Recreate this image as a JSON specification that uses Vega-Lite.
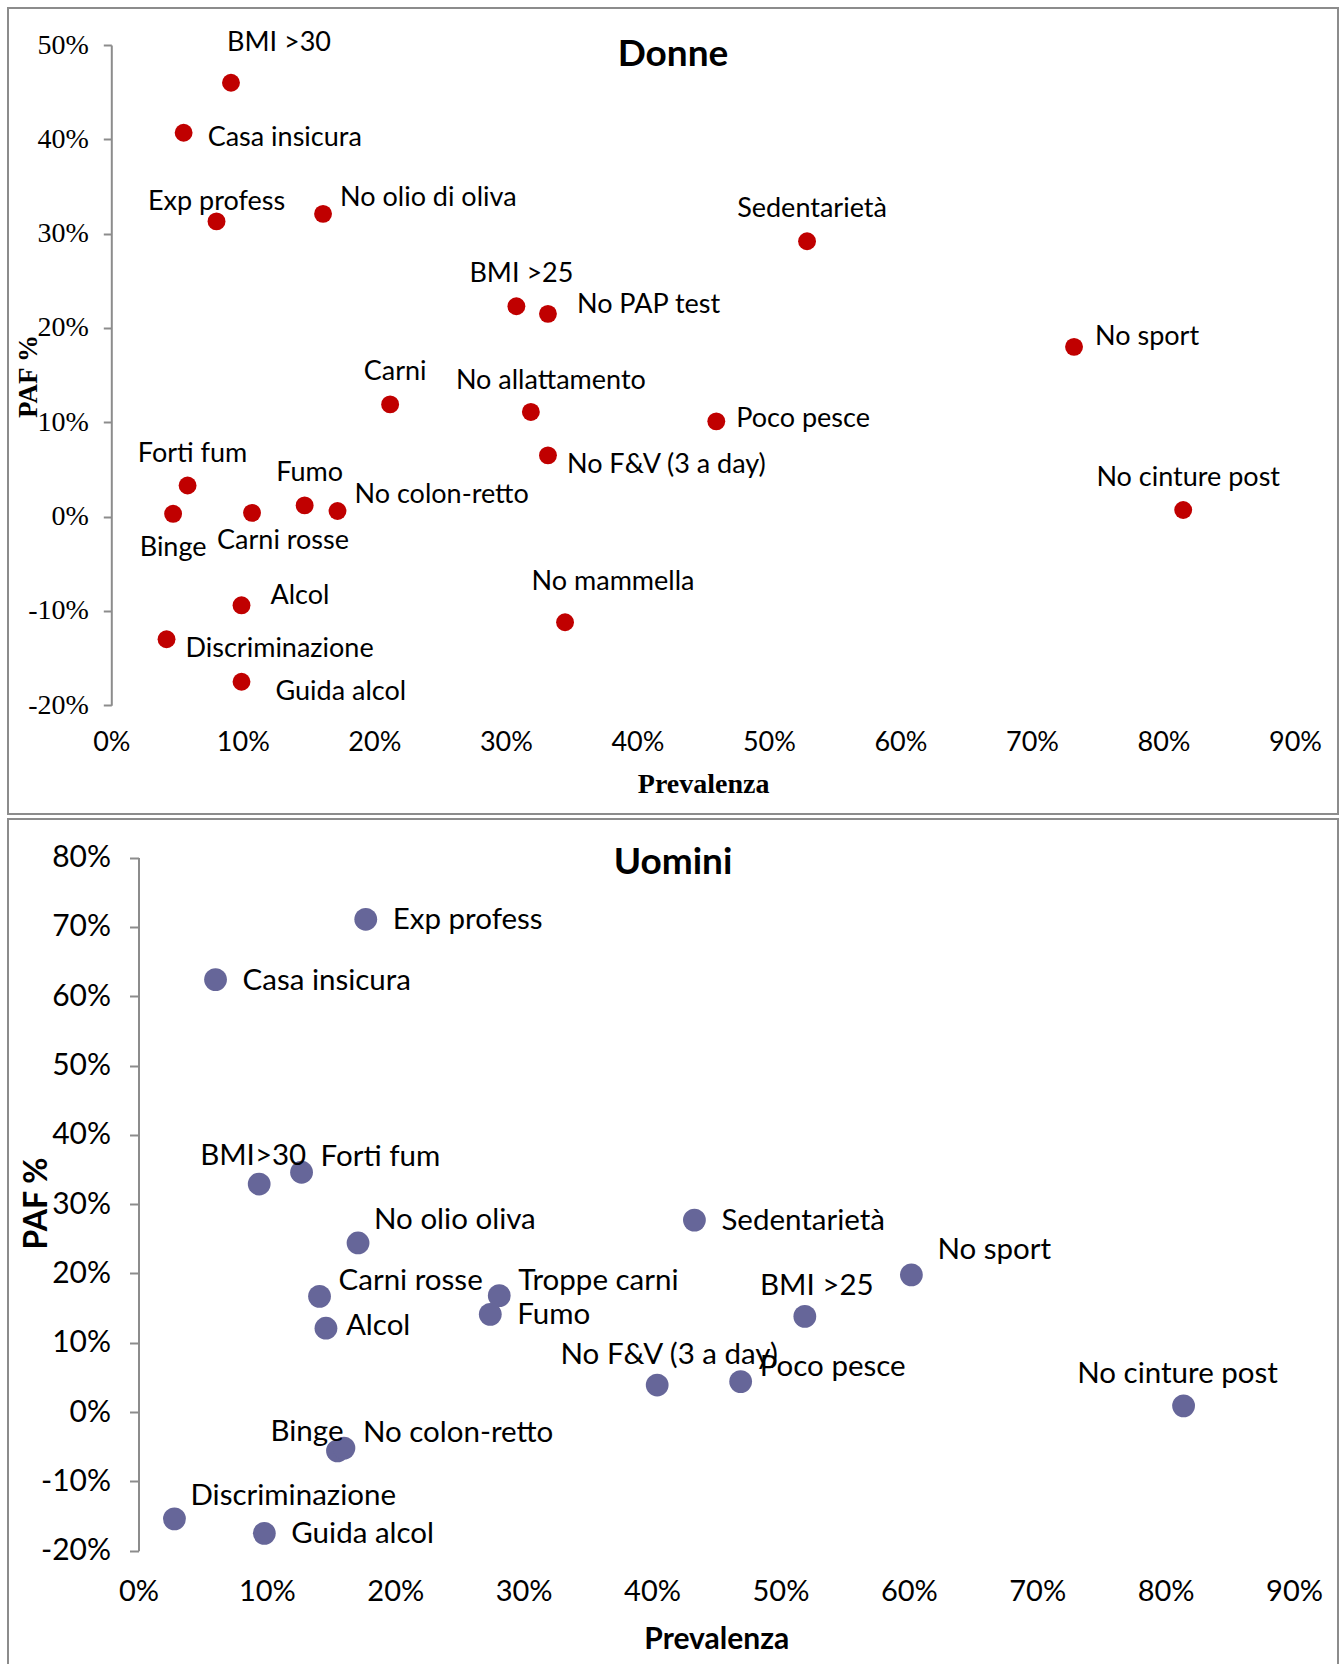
{
  "$schema": "https://vega.github.io/schema/vega-lite/v6.json",
  "background": "white",
  "padding": {"left": 7, "top": 7, "right": 0, "bottom": 0},
  "spacing": 3,
  "config": {
    "view": {"stroke": "#8c8c8c", "strokeWidth": 2},
    "axis": {"grid": false},
    "text": {"font": "Lato", "color": "#000000", "baseline": "middle"}
  },
  "datasets": {
    "donne": [
      {"fattore": "BMI >30", "prevalenza": 0.091, "paf": 0.460},
      {"fattore": "Casa insicura", "prevalenza": 0.055, "paf": 0.407},
      {"fattore": "Exp profess", "prevalenza": 0.080, "paf": 0.313},
      {"fattore": "No olio di oliva", "prevalenza": 0.161, "paf": 0.321},
      {"fattore": "BMI >25", "prevalenza": 0.308, "paf": 0.223},
      {"fattore": "No PAP test", "prevalenza": 0.332, "paf": 0.215},
      {"fattore": "Carni", "prevalenza": 0.212, "paf": 0.119},
      {"fattore": "No allattamento", "prevalenza": 0.319, "paf": 0.111},
      {"fattore": "Sedentarietà", "prevalenza": 0.529, "paf": 0.292},
      {"fattore": "No sport", "prevalenza": 0.732, "paf": 0.180},
      {"fattore": "Forti fum", "prevalenza": 0.058, "paf": 0.033},
      {"fattore": "Binge", "prevalenza": 0.047, "paf": 0.003},
      {"fattore": "Carni rosse", "prevalenza": 0.107, "paf": 0.004},
      {"fattore": "Fumo", "prevalenza": 0.147, "paf": 0.012},
      {"fattore": "No colon-retto", "prevalenza": 0.172, "paf": 0.006},
      {"fattore": "Alcol", "prevalenza": 0.099, "paf": -0.094},
      {"fattore": "Discriminazione", "prevalenza": 0.042, "paf": -0.130},
      {"fattore": "Guida alcol", "prevalenza": 0.099, "paf": -0.175},
      {"fattore": "No mammella", "prevalenza": 0.345, "paf": -0.112},
      {"fattore": "No F&V (3 a day)", "prevalenza": 0.332, "paf": 0.065},
      {"fattore": "Poco pesce", "prevalenza": 0.460, "paf": 0.101},
      {"fattore": "No cinture post", "prevalenza": 0.815, "paf": 0.007}
    ],
    "uomini": [
      {"fattore": "Exp profess", "prevalenza": 0.177, "paf": 0.711},
      {"fattore": "Casa insicura", "prevalenza": 0.060, "paf": 0.624},
      {"fattore": "BMI>30", "prevalenza": 0.094, "paf": 0.329},
      {"fattore": "Forti fum", "prevalenza": 0.127, "paf": 0.346},
      {"fattore": "No olio oliva", "prevalenza": 0.171, "paf": 0.244},
      {"fattore": "Sedentarietà", "prevalenza": 0.433, "paf": 0.277},
      {"fattore": "Carni rosse", "prevalenza": 0.141, "paf": 0.167},
      {"fattore": "Alcol", "prevalenza": 0.146, "paf": 0.121},
      {"fattore": "Troppe carni", "prevalenza": 0.281, "paf": 0.168},
      {"fattore": "Fumo", "prevalenza": 0.274, "paf": 0.141},
      {"fattore": "No F&V (3 a day)", "prevalenza": 0.404, "paf": 0.039},
      {"fattore": "Binge", "prevalenza": 0.155, "paf": -0.056},
      {"fattore": "No colon-retto", "prevalenza": 0.160, "paf": -0.052},
      {"fattore": "Discriminazione", "prevalenza": 0.028, "paf": -0.154},
      {"fattore": "Guida alcol", "prevalenza": 0.098, "paf": -0.175},
      {"fattore": "No sport", "prevalenza": 0.602, "paf": 0.198},
      {"fattore": "BMI >25", "prevalenza": 0.519, "paf": 0.138},
      {"fattore": "Poco pesce", "prevalenza": 0.469, "paf": 0.044},
      {"fattore": "No cinture post", "prevalenza": 0.814, "paf": 0.009}
    ]
  },
  "vconcat": [
    {
      "width": 1330,
      "height": 806,
      "title": {"text": "Donne", "font": "Lato", "fontSize": 37, "fontWeight": "bold", "color": "#000000", "anchor": "middle", "frame": "group", "offset": -66},
      "data": {"name": "donne"},
      "encoding": {
        "x": {"field": "prevalenza", "type": "quantitative"},
        "y": {"field": "paf", "type": "quantitative"},
        "text": {"field": "fattore"}
      },
      "layer": [
        {
          "data": {"values": [{}]},
          "mark": {"type": "rule", "color": "#8c8c8c", "strokeWidth": 2},
          "encoding": {
            "x": {"datum": 0},
            "x2": {"datum": 0.9},
            "y": {"datum": 0},
            "text": null
          }
        },
        {
          "mark": {"type": "circle", "size": 320, "color": "#C00000", "opacity": 1},
          "encoding": {
            "x": {
              "field": "prevalenza", "type": "quantitative",
              "scale": {"domain": [0, 0.9], "range": [103.3, 1287], "nice": false, "zero": false},
              "axis": {
                "orient": "bottom", "offset": -71.3,
                "values": [0, 0.1, 0.2, 0.3, 0.4, 0.5, 0.6, 0.7, 0.8, 0.9],
                "format": ".0%", "domain": false, "ticks": false, "tickSize": 0,
                "labelPadding": 0, "labelBaseline": "middle", "labelFlush": false,
                "labelFont": "Lato", "labelFontSize": 27, "labelColor": "#000000",
                "title": "Prevalenza", "titleFont": "Liberation Serif", "titleFontSize": 28,
                "titleFontWeight": "bold", "titleColor": "#000000",
                "titleBaseline": "middle", "titleY": 41.6
              }
            },
            "y": {
              "field": "paf", "type": "quantitative",
              "scale": {"domain": [-0.2, 0.5], "range": [697.3, 37], "nice": false, "zero": false},
              "axis": {
                "orient": "left", "offset": -103.3,
                "values": [-0.2, -0.1, 0, 0.1, 0.2, 0.3, 0.4, 0.5],
                "format": ".0%", "labelExpr": "replace(datum.label, '\u2212', '-')",
                "labelFont": "Liberation Serif", "labelFontSize": 28, "labelColor": "#000000",
                "labelPadding": 15, "tickSize": 8, "tickColor": "#8c8c8c", "tickWidth": 2,
                "domainColor": "#8c8c8c", "domainWidth": 2,
                "title": "PAF %", "titleFont": "Liberation Serif", "titleFontSize": 27,
                "titleFontWeight": "bold", "titleColor": "#000000",
                "titleAngle": -90, "titleAlign": "center", "titleBaseline": "middle",
                "titleX": -83, "titleY": 368
              }
            },
            "text": null
          }
        },
        {
          "transform": [{"filter": {"field": "fattore", "oneOf": ["BMI >25", "Carni", "Sedentarietà", "Forti fum", "Fumo", "No cinture post"]}}],
          "mark": {"type": "text", "fontSize": 27, "align": "center", "dx": 5, "dy": -32}
        },
        {
          "transform": [{"filter": {"field": "fattore", "oneOf": ["No allattamento"]}}],
          "mark": {"type": "text", "fontSize": 27, "align": "center", "dx": 20, "dy": -31}
        },
        {
          "transform": [{"filter": {"field": "fattore", "oneOf": ["Exp profess"]}}],
          "mark": {"type": "text", "fontSize": 27, "align": "center", "dx": 0, "dy": -19}
        },
        {
          "transform": [{"filter": {"field": "fattore", "oneOf": ["BMI >30", "No mammella"]}}],
          "mark": {"type": "text", "fontSize": 27, "align": "center", "dx": 48, "dy": -40}
        },
        {
          "transform": [{"filter": {"field": "fattore", "oneOf": ["No olio di oliva", "No colon-retto"]}}],
          "mark": {"type": "text", "fontSize": 27, "align": "left", "dx": 17, "dy": -16}
        },
        {
          "transform": [{"filter": {"field": "fattore", "oneOf": ["No sport"]}}],
          "mark": {"type": "text", "fontSize": 27, "align": "left", "dx": 21, "dy": -10}
        },
        {
          "transform": [{"filter": {"field": "fattore", "oneOf": ["No PAP test", "Alcol"]}}],
          "mark": {"type": "text", "fontSize": 27, "align": "left", "dx": 29, "dy": -9}
        },
        {
          "transform": [{"filter": {"field": "fattore", "oneOf": ["Casa insicura"]}}],
          "mark": {"type": "text", "fontSize": 27, "align": "left", "dx": 24, "dy": 5}
        },
        {
          "transform": [{"filter": {"field": "fattore", "oneOf": ["Poco pesce"]}}],
          "mark": {"type": "text", "fontSize": 27, "align": "left", "dx": 20, "dy": -2}
        },
        {
          "transform": [{"filter": {"field": "fattore", "oneOf": ["Discriminazione", "No F&V (3 a day)"]}}],
          "mark": {"type": "text", "fontSize": 27, "align": "left", "dx": 19, "dy": 10}
        },
        {
          "transform": [{"filter": {"field": "fattore", "oneOf": ["Guida alcol"]}}],
          "mark": {"type": "text", "fontSize": 27, "align": "left", "dx": 34, "dy": 10}
        },
        {
          "transform": [{"filter": {"field": "fattore", "oneOf": ["Binge"]}}],
          "mark": {"type": "text", "fontSize": 27, "align": "center", "dx": 0, "dy": 34}
        },
        {
          "transform": [{"filter": {"field": "fattore", "oneOf": ["Carni rosse"]}}],
          "mark": {"type": "text", "fontSize": 27, "align": "center", "dx": 31, "dy": 28}
        }
      ]
    },
    {
      "width": 1330,
      "height": 850,
      "title": {"text": "Uomini", "font": "Lato", "fontSize": 37, "fontWeight": "bold", "color": "#000000", "anchor": "middle", "frame": "group", "offset": -63},
      "data": {"name": "uomini"},
      "encoding": {
        "x": {"field": "prevalenza", "type": "quantitative"},
        "y": {"field": "paf", "type": "quantitative"},
        "text": {"field": "fattore"}
      },
      "layer": [
        {
          "data": {"values": [{}]},
          "mark": {"type": "rule", "color": "#8c8c8c", "strokeWidth": 2},
          "encoding": {
            "x": {"datum": 0},
            "x2": {"datum": 0.9},
            "y": {"datum": 0},
            "text": null
          }
        },
        {
          "mark": {"type": "circle", "size": 520, "color": "#666699", "opacity": 1},
          "encoding": {
            "x": {
              "field": "prevalenza", "type": "quantitative",
              "scale": {"domain": [0, 0.9], "range": [130.5, 1286], "nice": false, "zero": false},
              "axis": {
                "orient": "bottom", "offset": -77.7,
                "values": [0, 0.1, 0.2, 0.3, 0.4, 0.5, 0.6, 0.7, 0.8, 0.9],
                "format": ".0%", "domain": false, "ticks": false, "tickSize": 0,
                "labelPadding": 0, "labelBaseline": "middle", "labelFlush": false,
                "labelFont": "Lato", "labelFontSize": 29, "labelColor": "#000000",
                "title": "Prevalenza", "titleFont": "Lato", "titleFontSize": 30,
                "titleFontWeight": "bold", "titleColor": "#000000",
                "titleBaseline": "middle", "titleY": 48.4
              }
            },
            "y": {
              "field": "paf", "type": "quantitative",
              "scale": {"domain": [-0.2, 0.8], "range": [731.7, 38.6], "nice": false, "zero": false},
              "axis": {
                "orient": "left", "offset": -130.5,
                "values": [-0.2, -0.1, 0, 0.1, 0.2, 0.3, 0.4, 0.5, 0.6, 0.7, 0.8],
                "format": ".0%", "labelExpr": "replace(datum.label, '\u2212', '-')",
                "labelFont": "Lato", "labelFontSize": 30, "labelColor": "#000000",
                "labelPadding": 19, "tickSize": 9, "tickColor": "#8c8c8c", "tickWidth": 2,
                "domainColor": "#8c8c8c", "domainWidth": 2,
                "title": "PAF %", "titleFont": "Lato", "titleFontSize": 32,
                "titleFontWeight": "bold", "titleColor": "#000000",
                "titleAngle": -90, "titleAlign": "center", "titleBaseline": "middle",
                "titleX": -101.8, "titleY": 384
              }
            },
            "text": null
          }
        },
        {
          "transform": [{"filter": {"field": "fattore", "oneOf": ["Exp profess", "Casa insicura", "Sedentarietà", "Fumo", "Guida alcol"]}}],
          "mark": {"type": "text", "fontSize": 29.5, "align": "left", "dx": 27, "dy": 1}
        },
        {
          "transform": [{"filter": {"field": "fattore", "oneOf": ["Alcol"]}}],
          "mark": {"type": "text", "fontSize": 29.5, "align": "left", "dx": 20, "dy": -2}
        },
        {
          "transform": [{"filter": {"field": "fattore", "oneOf": ["Forti fum", "Carni rosse", "Troppe carni", "Poco pesce", "No colon-retto"]}}],
          "mark": {"type": "text", "fontSize": 29.5, "align": "left", "dx": 19, "dy": -15}
        },
        {
          "transform": [{"filter": {"field": "fattore", "oneOf": ["No olio oliva", "Discriminazione"]}}],
          "mark": {"type": "text", "fontSize": 29.5, "align": "left", "dx": 16, "dy": -23}
        },
        {
          "transform": [{"filter": {"field": "fattore", "oneOf": ["No sport"]}}],
          "mark": {"type": "text", "fontSize": 29.5, "align": "left", "dx": 26, "dy": -25}
        },
        {
          "transform": [{"filter": {"field": "fattore", "oneOf": ["BMI>30"]}}],
          "mark": {"type": "text", "fontSize": 29.5, "align": "center", "dx": -6, "dy": -28}
        },
        {
          "transform": [{"filter": {"field": "fattore", "oneOf": ["No cinture post"]}}],
          "mark": {"type": "text", "fontSize": 29.5, "align": "center", "dx": -6, "dy": -32}
        },
        {
          "transform": [{"filter": {"field": "fattore", "oneOf": ["No F&V (3 a day)", "BMI >25"]}}],
          "mark": {"type": "text", "fontSize": 29.5, "align": "center", "dx": 12, "dy": -30}
        },
        {
          "transform": [{"filter": {"field": "fattore", "oneOf": ["Binge"]}}],
          "mark": {"type": "text", "fontSize": 29.5, "align": "right", "dx": 6, "dy": -19}
        }
      ]
    }
  ]
}
